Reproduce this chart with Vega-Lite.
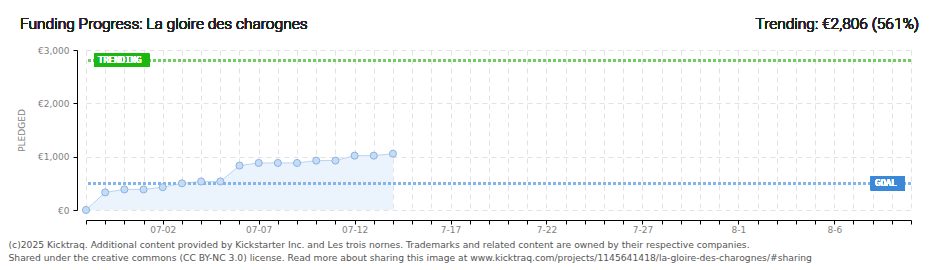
{
  "$schema": "https://vega.github.io/schema/vega-lite/v6.json",
  "width": 825,
  "height": 160,
  "autosize": {"type": "none"},
  "padding": {"left": 86, "top": 50, "right": 29, "bottom": 60},
  "background": "#ffffff",
  "config": {
    "view": {"stroke": null},
    "font": "DejaVu Sans"
  },
  "data": {
    "values": [
      {"date": "2025-06-28T00:00:00", "pledged": 0},
      {"date": "2025-06-29T00:00:00", "pledged": 330},
      {"date": "2025-06-30T00:00:00", "pledged": 386},
      {"date": "2025-07-01T00:00:00", "pledged": 386},
      {"date": "2025-07-02T00:00:00", "pledged": 428},
      {"date": "2025-07-03T00:00:00", "pledged": 500},
      {"date": "2025-07-04T00:00:00", "pledged": 535},
      {"date": "2025-07-05T00:00:00", "pledged": 535},
      {"date": "2025-07-06T00:00:00", "pledged": 833},
      {"date": "2025-07-07T00:00:00", "pledged": 882},
      {"date": "2025-07-08T00:00:00", "pledged": 882},
      {"date": "2025-07-09T00:00:00", "pledged": 882},
      {"date": "2025-07-10T00:00:00", "pledged": 926},
      {"date": "2025-07-11T00:00:00", "pledged": 926},
      {"date": "2025-07-12T00:00:00", "pledged": 1019},
      {"date": "2025-07-13T00:00:00", "pledged": 1019},
      {"date": "2025-07-14T00:00:00", "pledged": 1056}
    ]
  },
  "layer": [
    {
      "mark": {"type": "area", "color": "#ebf3fc"},
      "encoding": {
        "x": {
          "field": "date",
          "type": "temporal",
          "scale": {"domain": [{"year": 2025, "month": 6, "date": 28}, {"year": 2025, "month": 8, "date": 10}]},
          "axis": {
            "tickCount": {"interval": "day", "step": 1},
            "offset": 10,
            "tickSize": 4,
            "tickColor": "#000000",
            "domainColor": "#000000",
            "labelExpr": "indexof(['07-02','07-07','07-12'], timeFormat(datum.value,'%m-%d')) >= 0 ? timeFormat(datum.value,'%m-%d') : (indexof(['7-17','7-22','7-27','8-1','8-6'], timeFormat(datum.value,'%-m-%-d')) >= 0 ? timeFormat(datum.value,'%-m-%-d') : '')",
            "labelFlush": false,
            "labelOverlap": false,
            "labelColor": "#808080",
            "labelFontSize": 9,
            "labelPadding": 1,
            "grid": true,
            "gridColor": "#e2e2e2",
            "gridDash": [5, 4],
            "title": [
              "(c)2025 Kicktraq. Additional content provided by Kickstarter Inc. and Les trois nornes. Trademarks and related content are owned by their respective companies.",
              "Shared under the creative commons (CC BY-NC 3.0) license. Read more about sharing this image at www.kicktraq.com/projects/1145641418/la-gloire-des-charognes/#sharing"
            ],
            "titleAnchor": "start",
            "titleAlign": "left",
            "titleX": -78,
            "titleY": 27,
            "titleBaseline": "alphabetic",
            "titleFontSize": 9.2,
            "titleFontWeight": "normal",
            "titleColor": "#555555",
            "titleLineHeight": 13
          }
        },
        "y": {
          "field": "pledged",
          "type": "quantitative",
          "scale": {"domain": [0, 3000], "nice": false},
          "axis": {
            "values": [0, 250, 500, 750, 1000, 1250, 1500, 1750, 2000, 2250, 2500, 2750, 3000],
            "offset": 9,
            "tickSize": 4,
            "tickColor": {"condition": {"test": "datum.value % 500 != 0", "value": "#e8141a"}, "value": "#000000"},
            "domainColor": "#000000",
            "labelExpr": "datum.value % 500 == 0 ? '€' + format(datum.value, ',') : ''",
            "labelColor": "#808080",
            "labelFontSize": 9,
            "labelPadding": 4,
            "grid": true,
            "gridColor": "#e2e2e2",
            "gridDash": [5, 4],
            "gridOpacity": {"condition": {"test": "datum.value % 500 != 0", "value": 0}, "value": 1},
            "title": "PLEDGED",
            "titleColor": "#808080",
            "titleFontSize": 9,
            "titleFontWeight": "normal",
            "titlePadding": 11
          }
        }
      }
    },
    {
      "mark": {"type": "line", "color": "#b9d5f3", "strokeWidth": 1},
      "encoding": {
        "x": {"field": "date", "type": "temporal"},
        "y": {"field": "pledged", "type": "quantitative"}
      }
    },
    {
      "mark": {"type": "rule", "color": "#72cc62", "strokeWidth": 2, "strokeDash": [3, 2]},
      "encoding": {"y": {"datum": 2806}}
    },
    {
      "mark": {"type": "rule", "color": "#84b5ea", "strokeWidth": 2, "strokeDash": [3, 2]},
      "encoding": {"y": {"datum": 500}}
    },
    {
      "mark": {"type": "point", "filled": true, "size": 50, "fill": "#c4dcf6", "stroke": "#8cb2e0", "strokeWidth": 1, "opacity": 1},
      "encoding": {
        "x": {"field": "date", "type": "temporal"},
        "y": {"field": "pledged", "type": "quantitative"}
      }
    },
    {
      "mark": {"type": "point", "filled": true, "shape": "M-1,-0.236H1V0.236H-1Z", "size": 3025, "fill": "#1cb80f", "opacity": 1},
      "encoding": {"x": {"datum": {"year": 2025, "month": 6, "date": 29, "hours": 20, "minutes": 40}}, "y": {"datum": 2806}}
    },
    {
      "mark": {"type": "text", "text": "TRENDING", "color": "#ffffff", "font": "DejaVu Sans Mono", "fontSize": 9, "fontWeight": "normal", "align": "center", "baseline": "middle", "dx": -2},
      "encoding": {"x": {"datum": {"year": 2025, "month": 6, "date": 29, "hours": 20, "minutes": 40}}, "y": {"datum": 2806}}
    },
    {
      "mark": {"type": "point", "filled": true, "shape": "M-1,-0.41H1V0.41H-1Z", "size": 1156, "fill": "#3b88d8", "opacity": 1},
      "encoding": {"x": {"datum": {"year": 2025, "month": 8, "date": 8, "hours": 19}}, "y": {"datum": 500}}
    },
    {
      "mark": {"type": "text", "text": "GOAL", "color": "#ffffff", "font": "DejaVu Sans Mono", "fontSize": 9, "fontWeight": "normal", "align": "center", "baseline": "middle", "dx": -2},
      "encoding": {"x": {"datum": {"year": 2025, "month": 8, "date": 8, "hours": 19}}, "y": {"datum": 500}}
    },
    {
      "mark": {"type": "text", "text": "Funding Progress: La gloire des charognes", "color": "#222222", "font": "Roboto", "fontSize": 15.5, "fontWeight": 300, "align": "left", "baseline": "alphabetic", "dx": -66, "dy": -21, "clip": false},
      "encoding": {"x": {"datum": {"year": 2025, "month": 6, "date": 28}}, "y": {"datum": 3000}}
    },
    {
      "mark": {"type": "text", "text": "Trending: €2,806 (561%)", "color": "#222222", "font": "Roboto", "fontSize": 15.5, "fontWeight": 300, "align": "right", "baseline": "alphabetic", "dx": 8, "dy": -21, "clip": false},
      "encoding": {"x": {"datum": {"year": 2025, "month": 8, "date": 10}}, "y": {"datum": 3000}}
    }
  ]
}
